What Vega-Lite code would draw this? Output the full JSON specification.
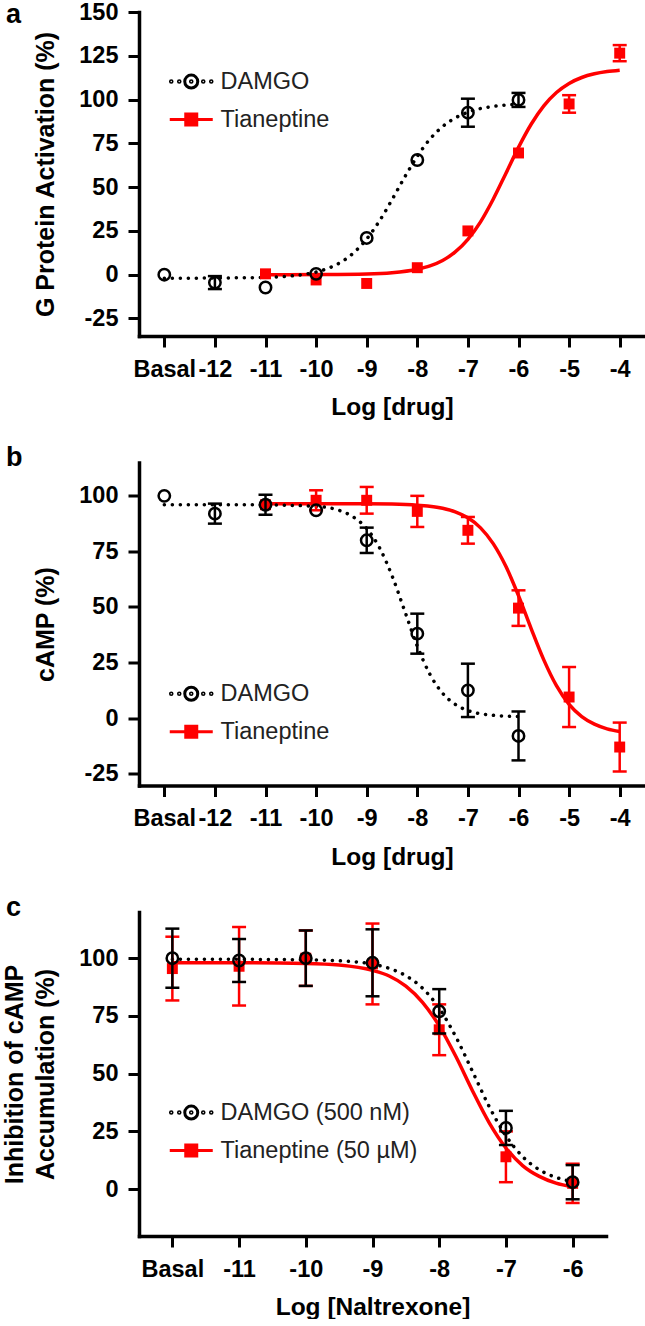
{
  "$schema": "https://vega.github.io/schema/vega-lite/v6.json",
  "background": "white",
  "padding": {"left": 2, "top": 0, "right": 0, "bottom": 0},
  "bounds": "flush",
  "spacing": 126.5,
  "resolve": {
    "scale": {"color": "independent", "fill": "independent", "shape": "independent"},
    "legend": {"color": "independent", "fill": "independent", "shape": "independent"}
  },
  "datasets": {
    "a_pts": [
      {"drug": "DAMGO", "x": -13, "y": 0},
      {"drug": "DAMGO", "x": -12, "y": -4.5, "err": 3.7},
      {"drug": "DAMGO", "x": -11, "y": -7.3},
      {"drug": "DAMGO", "x": -10, "y": 0.5},
      {"drug": "DAMGO", "x": -9, "y": 21},
      {"drug": "DAMGO", "x": -8, "y": 65.5},
      {"drug": "DAMGO", "x": -7, "y": 92.5, "err": 8},
      {"drug": "DAMGO", "x": -6, "y": 99.8, "err": 4},
      {"drug": "Tianeptine", "x": -11, "y": 0.5},
      {"drug": "Tianeptine", "x": -10, "y": -3},
      {"drug": "Tianeptine", "x": -9, "y": -5},
      {"drug": "Tianeptine", "x": -8, "y": 4},
      {"drug": "Tianeptine", "x": -7, "y": 25},
      {"drug": "Tianeptine", "x": -6, "y": 69.5},
      {"drug": "Tianeptine", "x": -5, "y": 97.5, "err": 5},
      {"drug": "Tianeptine", "x": -4, "y": 126.5, "err": 4.6}
    ],
    "a_fit": [
      {"drug": "DAMGO", "x": -13, "y": -2},
      {"drug": "DAMGO", "x": -12, "y": -1.9},
      {"drug": "DAMGO", "x": -11, "y": -1.5},
      {"drug": "DAMGO", "x": -10.5, "y": -0.7},
      {"drug": "DAMGO", "x": -10, "y": 1.5},
      {"drug": "DAMGO", "x": -9.75, "y": 3.8},
      {"drug": "DAMGO", "x": -9.5, "y": 7.3},
      {"drug": "DAMGO", "x": -9.25, "y": 12.7},
      {"drug": "DAMGO", "x": -9, "y": 20.4},
      {"drug": "DAMGO", "x": -8.75, "y": 30.6},
      {"drug": "DAMGO", "x": -8.5, "y": 42.8},
      {"drug": "DAMGO", "x": -8.25, "y": 55.7},
      {"drug": "DAMGO", "x": -8, "y": 67.6},
      {"drug": "DAMGO", "x": -7.75, "y": 77.4},
      {"drug": "DAMGO", "x": -7.5, "y": 84.6},
      {"drug": "DAMGO", "x": -7.25, "y": 89.5},
      {"drug": "DAMGO", "x": -7, "y": 92.8},
      {"drug": "DAMGO", "x": -6.5, "y": 96.1},
      {"drug": "DAMGO", "x": -6, "y": 97.3},
      {"drug": "Tianeptine", "x": -11, "y": 0},
      {"drug": "Tianeptine", "x": -10, "y": 0.1},
      {"drug": "Tianeptine", "x": -9, "y": 0.4},
      {"drug": "Tianeptine", "x": -8.5, "y": 1.1},
      {"drug": "Tianeptine", "x": -8, "y": 3.1},
      {"drug": "Tianeptine", "x": -7.75, "y": 5},
      {"drug": "Tianeptine", "x": -7.5, "y": 8.1},
      {"drug": "Tianeptine", "x": -7.25, "y": 13},
      {"drug": "Tianeptine", "x": -7, "y": 20.2},
      {"drug": "Tianeptine", "x": -6.75, "y": 30.2},
      {"drug": "Tianeptine", "x": -6.5, "y": 43.1},
      {"drug": "Tianeptine", "x": -6.25, "y": 57.8},
      {"drug": "Tianeptine", "x": -6, "y": 72.7},
      {"drug": "Tianeptine", "x": -5.75, "y": 85.9},
      {"drug": "Tianeptine", "x": -5.5, "y": 96.4},
      {"drug": "Tianeptine", "x": -5.25, "y": 104},
      {"drug": "Tianeptine", "x": -5, "y": 109.2},
      {"drug": "Tianeptine", "x": -4.75, "y": 112.6},
      {"drug": "Tianeptine", "x": -4.5, "y": 114.7},
      {"drug": "Tianeptine", "x": -4.25, "y": 116},
      {"drug": "Tianeptine", "x": -4, "y": 116.8}
    ],
    "b_pts": [
      {"drug": "DAMGO", "x": -13, "y": 100},
      {"drug": "DAMGO", "x": -12, "y": 92, "err": 4.5},
      {"drug": "DAMGO", "x": -11, "y": 96, "err": 4.5},
      {"drug": "DAMGO", "x": -10, "y": 93.5},
      {"drug": "DAMGO", "x": -9, "y": 80, "err": 5.7},
      {"drug": "DAMGO", "x": -8, "y": 38, "err": 9},
      {"drug": "DAMGO", "x": -7, "y": 12.5, "err": 12},
      {"drug": "DAMGO", "x": -6, "y": -8, "err": 11},
      {"drug": "Tianeptine", "x": -11, "y": 96},
      {"drug": "Tianeptine", "x": -10, "y": 98, "err": 4.5},
      {"drug": "Tianeptine", "x": -9, "y": 98, "err": 6},
      {"drug": "Tianeptine", "x": -8, "y": 93, "err": 7},
      {"drug": "Tianeptine", "x": -7, "y": 84.5, "err": 6},
      {"drug": "Tianeptine", "x": -6, "y": 49.5, "err": 8},
      {"drug": "Tianeptine", "x": -5, "y": 9.5, "err": 13.5},
      {"drug": "Tianeptine", "x": -4, "y": -13, "err": 11}
    ],
    "b_fit": [
      {"drug": "DAMGO", "x": -13, "y": 96},
      {"drug": "DAMGO", "x": -12, "y": 96},
      {"drug": "DAMGO", "x": -11, "y": 95.9},
      {"drug": "DAMGO", "x": -10, "y": 95.3},
      {"drug": "DAMGO", "x": -9.5, "y": 93.1},
      {"drug": "DAMGO", "x": -9.25, "y": 90.3},
      {"drug": "DAMGO", "x": -9, "y": 85.3},
      {"drug": "DAMGO", "x": -8.75, "y": 76.8},
      {"drug": "DAMGO", "x": -8.5, "y": 64.1},
      {"drug": "DAMGO", "x": -8.25, "y": 48.3},
      {"drug": "DAMGO", "x": -8, "y": 32.4},
      {"drug": "DAMGO", "x": -7.75, "y": 19.7},
      {"drug": "DAMGO", "x": -7.5, "y": 11.2},
      {"drug": "DAMGO", "x": -7.25, "y": 6.2},
      {"drug": "DAMGO", "x": -7, "y": 3.4},
      {"drug": "DAMGO", "x": -6.5, "y": 1.3},
      {"drug": "DAMGO", "x": -6, "y": 0.7},
      {"drug": "Tianeptine", "x": -11, "y": 96.5},
      {"drug": "Tianeptine", "x": -10, "y": 96.5},
      {"drug": "Tianeptine", "x": -9, "y": 96.4},
      {"drug": "Tianeptine", "x": -8.5, "y": 96.3},
      {"drug": "Tianeptine", "x": -8, "y": 95.8},
      {"drug": "Tianeptine", "x": -7.5, "y": 94.4},
      {"drug": "Tianeptine", "x": -7.25, "y": 92.8},
      {"drug": "Tianeptine", "x": -7, "y": 90.1},
      {"drug": "Tianeptine", "x": -6.75, "y": 85.6},
      {"drug": "Tianeptine", "x": -6.5, "y": 78.5},
      {"drug": "Tianeptine", "x": -6.25, "y": 68.3},
      {"drug": "Tianeptine", "x": -6, "y": 55.1},
      {"drug": "Tianeptine", "x": -5.75, "y": 40.3},
      {"drug": "Tianeptine", "x": -5.5, "y": 26.2},
      {"drug": "Tianeptine", "x": -5.25, "y": 14.6},
      {"drug": "Tianeptine", "x": -5, "y": 6.2},
      {"drug": "Tianeptine", "x": -4.75, "y": 0.7},
      {"drug": "Tianeptine", "x": -4.5, "y": -2.7},
      {"drug": "Tianeptine", "x": -4.25, "y": -4.8},
      {"drug": "Tianeptine", "x": -4, "y": -6}
    ],
    "c_pts": [
      {"drug": "DAMGO (500 nM)", "x": -12, "y": 100, "err": 12.8},
      {"drug": "DAMGO (500 nM)", "x": -11, "y": 99, "err": 9.3},
      {"drug": "DAMGO (500 nM)", "x": -10, "y": 100, "err": 12},
      {"drug": "DAMGO (500 nM)", "x": -9, "y": 98, "err": 14.5},
      {"drug": "DAMGO (500 nM)", "x": -8, "y": 77, "err": 9.6},
      {"drug": "DAMGO (500 nM)", "x": -7, "y": 26.5, "err": 7.4},
      {"drug": "DAMGO (500 nM)", "x": -6, "y": 3, "err": 7.4},
      {"drug": "Tianeptine (50 µM)", "x": -12, "y": 95.5, "err": 13.8},
      {"drug": "Tianeptine (50 µM)", "x": -11, "y": 96.5, "err": 17},
      {"drug": "Tianeptine (50 µM)", "x": -10, "y": 100, "err": 12},
      {"drug": "Tianeptine (50 µM)", "x": -9, "y": 97.5, "err": 17.5},
      {"drug": "Tianeptine (50 µM)", "x": -8, "y": 69, "err": 11},
      {"drug": "Tianeptine (50 µM)", "x": -7, "y": 14, "err": 11},
      {"drug": "Tianeptine (50 µM)", "x": -6, "y": 2.5, "err": 8.5}
    ],
    "c_fit": [
      {"drug": "DAMGO (500 nM)", "x": -12, "y": 99.5},
      {"drug": "DAMGO (500 nM)", "x": -11, "y": 99.5},
      {"drug": "DAMGO (500 nM)", "x": -10, "y": 99.3},
      {"drug": "DAMGO (500 nM)", "x": -9.5, "y": 98.9},
      {"drug": "DAMGO (500 nM)", "x": -9, "y": 97.4},
      {"drug": "DAMGO (500 nM)", "x": -8.75, "y": 95.6},
      {"drug": "DAMGO (500 nM)", "x": -8.5, "y": 92.4},
      {"drug": "DAMGO (500 nM)", "x": -8.25, "y": 87},
      {"drug": "DAMGO (500 nM)", "x": -8, "y": 78.3},
      {"drug": "DAMGO (500 nM)", "x": -7.75, "y": 65.9},
      {"drug": "DAMGO (500 nM)", "x": -7.5, "y": 50.9},
      {"drug": "DAMGO (500 nM)", "x": -7.25, "y": 35.7},
      {"drug": "DAMGO (500 nM)", "x": -7, "y": 23.1},
      {"drug": "DAMGO (500 nM)", "x": -6.75, "y": 14.1},
      {"drug": "DAMGO (500 nM)", "x": -6.5, "y": 8.4},
      {"drug": "DAMGO (500 nM)", "x": -6.25, "y": 5.1},
      {"drug": "DAMGO (500 nM)", "x": -6, "y": 3.2},
      {"drug": "Tianeptine (50 µM)", "x": -12, "y": 98},
      {"drug": "Tianeptine (50 µM)", "x": -11, "y": 98},
      {"drug": "Tianeptine (50 µM)", "x": -10, "y": 97.7},
      {"drug": "Tianeptine (50 µM)", "x": -9.5, "y": 97},
      {"drug": "Tianeptine (50 µM)", "x": -9, "y": 94.7},
      {"drug": "Tianeptine (50 µM)", "x": -8.75, "y": 92.3},
      {"drug": "Tianeptine (50 µM)", "x": -8.5, "y": 87.9},
      {"drug": "Tianeptine (50 µM)", "x": -8.25, "y": 80.9},
      {"drug": "Tianeptine (50 µM)", "x": -8, "y": 70.7},
      {"drug": "Tianeptine (50 µM)", "x": -7.75, "y": 57.4},
      {"drug": "Tianeptine (50 µM)", "x": -7.5, "y": 42.5},
      {"drug": "Tianeptine (50 µM)", "x": -7.25, "y": 28.7},
      {"drug": "Tianeptine (50 µM)", "x": -7, "y": 17.8},
      {"drug": "Tianeptine (50 µM)", "x": -6.75, "y": 10.2},
      {"drug": "Tianeptine (50 µM)", "x": -6.5, "y": 5.5},
      {"drug": "Tianeptine (50 µM)", "x": -6.25, "y": 2.6},
      {"drug": "Tianeptine (50 µM)", "x": -6, "y": 1}
    ]
  },
  "vconcat": [
    {
      "width": 506,
      "height": 324,
      "title": {"text": "a", "dx": -133, "dy": 33},
      "layer": [
        {
          "data": {"name": "a_fit"},
          "transform": [{"filter": "datum.drug[0] == 'T'"}],
          "mark": {"type": "line", "color": "#ff0000", "strokeWidth": 3.5, "interpolate": "monotone"},
          "encoding": {
            "x": {"field": "x", "type": "quantitative", "title": "Log [drug]", "scale": {"domain": [-13.5, -3.5], "nice": false, "zero": false},
                  "axis": {"values": [-13, -12, -11, -10, -9, -8, -7, -6, -5, -4], "labelExpr": "datum.value == -13 ? 'Basal' : '' + datum.value"}},
            "y": {"field": "y", "type": "quantitative", "title": "G Protein Activation (%)", "scale": {"domain": [-35, 150], "nice": false, "zero": false},
                  "axis": {"values": [-25, 0, 25, 50, 75, 100, 125, 150], "labelExpr": "'' + datum.value"}}
          }
        },
        {
          "data": {"name": "a_fit"},
          "transform": [{"filter": "datum.drug[0] == 'D'"}],
          "mark": {"type": "line", "color": "#000000", "strokeWidth": 3.5, "strokeDash": [0.1, 7.9], "strokeCap": "round", "interpolate": "monotone"},
          "encoding": {"x": {"field": "x", "type": "quantitative", "title": "Log [drug]"}, "y": {"field": "y", "type": "quantitative", "title": "G Protein Activation (%)"}}
        },
        {
          "data": {"name": "a_pts"},
          "transform": [{"filter": "datum.drug[0] == 'T' && isValid(datum.err)"}],
          "mark": {"type": "errorbar", "ticks": true, "size": 14, "thickness": 2.5, "color": "#ff0000", "opacity": 1},
          "encoding": {"x": {"field": "x", "type": "quantitative", "title": "Log [drug]"}, "y": {"field": "y", "type": "quantitative", "title": "G Protein Activation (%)"}, "yError": {"field": "err"}}
        },
        {
          "data": {"name": "a_pts"},
          "transform": [{"filter": "datum.drug[0] == 'T'"}],
          "mark": {"type": "square", "size": 120, "color": "#ff0000", "opacity": 1},
          "encoding": {"x": {"field": "x", "type": "quantitative", "title": "Log [drug]"}, "y": {"field": "y", "type": "quantitative", "title": "G Protein Activation (%)"}}
        },
        {
          "data": {"name": "a_pts"},
          "transform": [{"filter": "datum.drug[0] == 'D' && isValid(datum.err)"}],
          "mark": {"type": "errorbar", "ticks": true, "size": 14, "thickness": 2.5, "color": "#000000", "opacity": 1},
          "encoding": {"x": {"field": "x", "type": "quantitative", "title": "Log [drug]"}, "y": {"field": "y", "type": "quantitative", "title": "G Protein Activation (%)"}, "yError": {"field": "err"}}
        },
        {
          "data": {"name": "a_pts"},
          "transform": [{"filter": "datum.drug[0] == 'D'"}],
          "mark": {"type": "point", "shape": "circle", "filled": false, "size": 130, "strokeWidth": 2.5, "color": "#000000", "opacity": 1},
          "encoding": {"x": {"field": "x", "type": "quantitative", "title": "Log [drug]"}, "y": {"field": "y", "type": "quantitative", "title": "G Protein Activation (%)"}}
        },
        {
          "data": {"name": "a_pts"},
          "mark": {"type": "point", "filled": false, "opacity": 0},
          "encoding": {
            "x": {"field": "x", "type": "quantitative", "title": "Log [drug]"},
            "y": {"field": "y", "type": "quantitative", "title": "G Protein Activation (%)"},
            "color": {"field": "drug", "type": "nominal", "scale": {"domain": ["DAMGO", "Tianeptine"], "range": ["#000000", "#ff0000"]},
                      "legend": {"orient": "none", "legendX": 40.5, "legendY": 57.8, "title": null, "symbolOpacity": 1}},
            "fill": {"field": "drug", "type": "nominal", "scale": {"domain": ["DAMGO", "Tianeptine"], "range": ["transparent", "#ff0000"]},
                      "legend": {"orient": "none", "legendX": 40.5, "legendY": 57.8, "title": null, "symbolOpacity": 1}},
            "shape": {"field": "drug", "type": "nominal", "scale": {"domain": ["DAMGO", "Tianeptine"], "range": [
                        "M-2.08,0A0.08,0.08,0,1,1,-1.92,0A0.08,0.08,0,1,1,-2.08,0M-1.28,0A0.08,0.08,0,1,1,-1.12,0A0.08,0.08,0,1,1,-1.28,0M-0.08,0A0.08,0.08,0,1,1,0.08,0A0.08,0.08,0,1,1,-0.08,0M1.12,0A0.08,0.08,0,1,1,1.28,0A0.08,0.08,0,1,1,1.12,0M1.92,0A0.08,0.08,0,1,1,2.08,0A0.08,0.08,0,1,1,1.92,0M-0.65,0A0.65,0.65,0,1,1,0.65,0A0.65,0.65,0,1,1,-0.65,0",
                        "M-2.15,0L2.15,0M-0.55,-0.55L0.55,-0.55L0.55,0.55L-0.55,0.55Z"]},
                      "legend": {"orient": "none", "legendX": 40.5, "legendY": 57.8, "title": null, "symbolOpacity": 1}}
          }
        }
      ]
    },
    {
      "width": 506,
      "height": 323,
      "title": {"text": "b", "dx": -133, "dy": 13.6},
      "layer": [
        {
          "data": {"name": "b_fit"},
          "transform": [{"filter": "datum.drug[0] == 'T'"}],
          "mark": {"type": "line", "color": "#ff0000", "strokeWidth": 3.5, "interpolate": "monotone"},
          "encoding": {
            "x": {"field": "x", "type": "quantitative", "title": "Log [drug]", "scale": {"domain": [-13.5, -3.5], "nice": false, "zero": false},
                  "axis": {"values": [-13, -12, -11, -10, -9, -8, -7, -6, -5, -4], "labelExpr": "datum.value == -13 ? 'Basal' : '' + datum.value"}},
            "y": {"field": "y", "type": "quantitative", "title": "cAMP (%)", "scale": {"domain": [-30.3, 115], "nice": false, "zero": false},
                  "axis": {"values": [-25, 0, 25, 50, 75, 100], "labelExpr": "'' + datum.value"}}
          }
        },
        {
          "data": {"name": "b_fit"},
          "transform": [{"filter": "datum.drug[0] == 'D'"}],
          "mark": {"type": "line", "color": "#000000", "strokeWidth": 3.5, "strokeDash": [0.1, 7.9], "strokeCap": "round", "interpolate": "monotone"},
          "encoding": {"x": {"field": "x", "type": "quantitative", "title": "Log [drug]"}, "y": {"field": "y", "type": "quantitative", "title": "cAMP (%)"}}
        },
        {
          "data": {"name": "b_pts"},
          "transform": [{"filter": "datum.drug[0] == 'T' && isValid(datum.err)"}],
          "mark": {"type": "errorbar", "ticks": true, "size": 14, "thickness": 2.5, "color": "#ff0000", "opacity": 1},
          "encoding": {"x": {"field": "x", "type": "quantitative", "title": "Log [drug]"}, "y": {"field": "y", "type": "quantitative", "title": "cAMP (%)"}, "yError": {"field": "err"}}
        },
        {
          "data": {"name": "b_pts"},
          "transform": [{"filter": "datum.drug[0] == 'T'"}],
          "mark": {"type": "square", "size": 120, "color": "#ff0000", "opacity": 1},
          "encoding": {"x": {"field": "x", "type": "quantitative", "title": "Log [drug]"}, "y": {"field": "y", "type": "quantitative", "title": "cAMP (%)"}}
        },
        {
          "data": {"name": "b_pts"},
          "transform": [{"filter": "datum.drug[0] == 'D' && isValid(datum.err)"}],
          "mark": {"type": "errorbar", "ticks": true, "size": 14, "thickness": 2.5, "color": "#000000", "opacity": 1},
          "encoding": {"x": {"field": "x", "type": "quantitative", "title": "Log [drug]"}, "y": {"field": "y", "type": "quantitative", "title": "cAMP (%)"}, "yError": {"field": "err"}}
        },
        {
          "data": {"name": "b_pts"},
          "transform": [{"filter": "datum.drug[0] == 'D'"}],
          "mark": {"type": "point", "shape": "circle", "filled": false, "size": 130, "strokeWidth": 2.5, "color": "#000000", "opacity": 1},
          "encoding": {"x": {"field": "x", "type": "quantitative", "title": "Log [drug]"}, "y": {"field": "y", "type": "quantitative", "title": "cAMP (%)"}}
        },
        {
          "data": {"name": "b_pts"},
          "mark": {"type": "point", "filled": false, "opacity": 0},
          "encoding": {
            "x": {"field": "x", "type": "quantitative", "title": "Log [drug]"},
            "y": {"field": "y", "type": "quantitative", "title": "cAMP (%)"},
            "color": {"field": "drug", "type": "nominal", "scale": {"domain": ["DAMGO", "Tianeptine"], "range": ["#000000", "#ff0000"]},
                      "legend": {"orient": "none", "legendX": 40.5, "legendY": 219.5, "title": null, "symbolOpacity": 1}},
            "fill": {"field": "drug", "type": "nominal", "scale": {"domain": ["DAMGO", "Tianeptine"], "range": ["transparent", "#ff0000"]},
                      "legend": {"orient": "none", "legendX": 40.5, "legendY": 219.5, "title": null, "symbolOpacity": 1}},
            "shape": {"field": "drug", "type": "nominal", "scale": {"domain": ["DAMGO", "Tianeptine"], "range": [
                        "M-2.08,0A0.08,0.08,0,1,1,-1.92,0A0.08,0.08,0,1,1,-2.08,0M-1.28,0A0.08,0.08,0,1,1,-1.12,0A0.08,0.08,0,1,1,-1.28,0M-0.08,0A0.08,0.08,0,1,1,0.08,0A0.08,0.08,0,1,1,-0.08,0M1.12,0A0.08,0.08,0,1,1,1.28,0A0.08,0.08,0,1,1,1.12,0M1.92,0A0.08,0.08,0,1,1,2.08,0A0.08,0.08,0,1,1,1.92,0M-0.65,0A0.65,0.65,0,1,1,0.65,0A0.65,0.65,0,1,1,-0.65,0",
                        "M-2.15,0L2.15,0M-0.55,-0.55L0.55,-0.55L0.55,0.55L-0.55,0.55Z"]},
                      "legend": {"orient": "none", "legendX": 40.5, "legendY": 219.5, "title": null, "symbolOpacity": 1}}
          }
        }
      ]
    },
    {
      "width": 467,
      "height": 324,
      "title": {"text": "c", "dx": -133, "dy": 13.6},
      "layer": [
        {
          "data": {"name": "c_fit"},
          "transform": [{"filter": "datum.drug[0] == 'T'"}],
          "mark": {"type": "line", "color": "#ff0000", "strokeWidth": 3.5, "interpolate": "monotone"},
          "encoding": {
            "x": {"field": "x", "type": "quantitative", "title": "Log [Naltrexone]", "scale": {"domain": [-12.5, -5.5], "nice": false, "zero": false},
                  "axis": {"values": [-12, -11, -10, -9, -8, -7, -6], "labelExpr": "datum.value == -12 ? 'Basal' : '' + datum.value"}},
            "y": {"field": "y", "type": "quantitative", "title": ["Inhibition of cAMP", "Accumulation (%)"], "scale": {"domain": [-20.3, 120], "nice": false, "zero": false},
                  "axis": {"titleLineHeight": 31, "values": [0, 25, 50, 75, 100], "labelExpr": "'' + datum.value"}}
          }
        },
        {
          "data": {"name": "c_fit"},
          "transform": [{"filter": "datum.drug[0] == 'D'"}],
          "mark": {"type": "line", "color": "#000000", "strokeWidth": 3.5, "strokeDash": [0.1, 7.9], "strokeCap": "round", "interpolate": "monotone"},
          "encoding": {"x": {"field": "x", "type": "quantitative", "title": "Log [Naltrexone]"}, "y": {"field": "y", "type": "quantitative", "title": ["Inhibition of cAMP", "Accumulation (%)"]}}
        },
        {
          "data": {"name": "c_pts"},
          "transform": [{"filter": "datum.drug[0] == 'T' && isValid(datum.err)"}],
          "mark": {"type": "errorbar", "ticks": true, "size": 14, "thickness": 2.5, "color": "#ff0000", "opacity": 1},
          "encoding": {"x": {"field": "x", "type": "quantitative", "title": "Log [Naltrexone]"}, "y": {"field": "y", "type": "quantitative", "title": ["Inhibition of cAMP", "Accumulation (%)"]}, "yError": {"field": "err"}}
        },
        {
          "data": {"name": "c_pts"},
          "transform": [{"filter": "datum.drug[0] == 'T'"}],
          "mark": {"type": "square", "size": 120, "color": "#ff0000", "opacity": 1},
          "encoding": {"x": {"field": "x", "type": "quantitative", "title": "Log [Naltrexone]"}, "y": {"field": "y", "type": "quantitative", "title": ["Inhibition of cAMP", "Accumulation (%)"]}}
        },
        {
          "data": {"name": "c_pts"},
          "transform": [{"filter": "datum.drug[0] == 'D' && isValid(datum.err)"}],
          "mark": {"type": "errorbar", "ticks": true, "size": 14, "thickness": 2.5, "color": "#000000", "opacity": 1},
          "encoding": {"x": {"field": "x", "type": "quantitative", "title": "Log [Naltrexone]"}, "y": {"field": "y", "type": "quantitative", "title": ["Inhibition of cAMP", "Accumulation (%)"]}, "yError": {"field": "err"}}
        },
        {
          "data": {"name": "c_pts"},
          "transform": [{"filter": "datum.drug[0] == 'D'"}],
          "mark": {"type": "point", "shape": "circle", "filled": false, "size": 130, "strokeWidth": 2.5, "color": "#000000", "opacity": 1},
          "encoding": {"x": {"field": "x", "type": "quantitative", "title": "Log [Naltrexone]"}, "y": {"field": "y", "type": "quantitative", "title": ["Inhibition of cAMP", "Accumulation (%)"]}}
        },
        {
          "data": {"name": "c_pts"},
          "mark": {"type": "point", "filled": false, "opacity": 0},
          "encoding": {
            "x": {"field": "x", "type": "quantitative", "title": "Log [Naltrexone]"},
            "y": {"field": "y", "type": "quantitative", "title": ["Inhibition of cAMP", "Accumulation (%)"]},
            "color": {"field": "drug", "type": "nominal", "scale": {"domain": ["DAMGO (500 nM)", "Tianeptine (50 µM)"], "range": ["#000000", "#ff0000"]},
                      "legend": {"orient": "none", "legendX": 40.5, "legendY": 188.8, "title": null, "symbolOpacity": 1}},
            "fill": {"field": "drug", "type": "nominal", "scale": {"domain": ["DAMGO (500 nM)", "Tianeptine (50 µM)"], "range": ["transparent", "#ff0000"]},
                      "legend": {"orient": "none", "legendX": 40.5, "legendY": 188.8, "title": null, "symbolOpacity": 1}},
            "shape": {"field": "drug", "type": "nominal", "scale": {"domain": ["DAMGO (500 nM)", "Tianeptine (50 µM)"], "range": [
                        "M-2.08,0A0.08,0.08,0,1,1,-1.92,0A0.08,0.08,0,1,1,-2.08,0M-1.28,0A0.08,0.08,0,1,1,-1.12,0A0.08,0.08,0,1,1,-1.28,0M-0.08,0A0.08,0.08,0,1,1,0.08,0A0.08,0.08,0,1,1,-0.08,0M1.12,0A0.08,0.08,0,1,1,1.28,0A0.08,0.08,0,1,1,1.12,0M1.92,0A0.08,0.08,0,1,1,2.08,0A0.08,0.08,0,1,1,1.92,0M-0.65,0A0.65,0.65,0,1,1,0.65,0A0.65,0.65,0,1,1,-0.65,0",
                        "M-2.15,0L2.15,0M-0.55,-0.55L0.55,-0.55L0.55,0.55L-0.55,0.55Z"]},
                      "legend": {"orient": "none", "legendX": 40.5, "legendY": 188.8, "title": null, "symbolOpacity": 1}}
          }
        }
      ]
    }
  ],
  "config": {
    "font": "Liberation Sans",
    "view": {"stroke": null},
    "axis": {
      "grid": false,
      "domainColor": "#000000",
      "domainWidth": 3.5,
      "domainCap": "square",
      "tickColor": "#000000",
      "tickWidth": 3,
      "tickSize": 11,
      "labelFont": "Liberation Sans",
      "labelFontSize": 23.5,
      "labelFontWeight": "bold",
      "labelColor": "#000000",
      "labelPadding": 10,
      "labelOverlap": false,
      "labelFlush": false,
      "titleFont": "Liberation Sans",
      "titleFontSize": 24.5,
      "titleFontWeight": "bold",
      "titleColor": "#000000",
      "titlePadding": 20
    },
    "axisX": {"titlePadding": 15},
    "axisY": {"titleFontSize": 25},
    "legend": {
      "padding": 0,
      "symbolSize": 400,
      "symbolStrokeWidth": 3,
      "labelOffset": 17.5,
      "rowPadding": 12,
      "labelFont": "Liberation Sans",
      "labelFontSize": 23.5,
      "labelFontWeight": "normal",
      "labelColor": "#222222",
      "labelLimit": 400
    },
    "title": {
      "font": "Liberation Sans",
      "fontSize": 27,
      "fontWeight": "bold",
      "color": "#000000",
      "anchor": "start",
      "frame": "group",
      "offset": 0,
      "baseline": "alphabetic"
    }
  }
}
